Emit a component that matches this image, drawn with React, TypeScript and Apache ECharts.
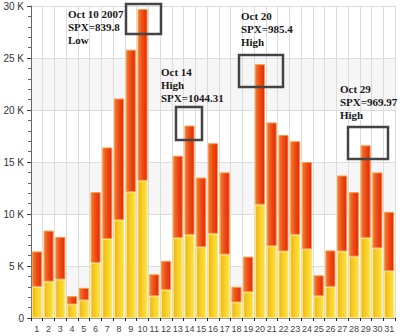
import React, { useEffect, useRef } from "react";
import * as echarts from "echarts";

const days = Array.from({ length: 31 }, (_, i) => String(i + 1));
const totals = [6.4, 8.4, 7.8, 2.1, 2.9, 12.1, 16.4, 21.1, 25.8, 29.7, 4.2, 5.5, 15.6, 18.5, 13.5, 16.8, 14.0, 3.0, 5.9, 24.4, 18.8, 17.6, 17.0, 15.0, 4.1, 6.5, 13.7, 12.1, 16.6, 14.0, 10.2];
const lower = [3.0, 3.5, 3.7, 1.3, 1.7, 5.3, 7.6, 9.4, 12.1, 13.2, 2.1, 2.7, 7.7, 8.0, 6.8, 8.1, 6.1, 1.5, 2.5, 10.9, 6.9, 6.4, 8.0, 6.6, 2.1, 3.0, 6.4, 5.9, 7.7, 6.7, 4.5];
const lowerValues = lower.map((v) => Math.round(v * 1000));
const upperValues = totals.map((t, i) => Math.round((t - lower[i]) * 1000));

const notes = [
  { text: "Oct 10 2007\nSPX=839.8\nLow", tx: 68, ty: 7, box: [126, 4, 35, 30] },
  { text: "Oct 14\nHigh\nSPX=1044.31", tx: 161, ty: 65, box: [176, 107, 26, 33] },
  { text: "Oct 20\nSPX=985.4\nHigh", tx: 241, ty: 9, box: [239, 55, 44, 32] },
  { text: "Oct 29\nSPX=969.97\nHigh", tx: 340, ty: 82, box: [348, 127, 40, 32] },
];

export default function App() {
  const ref = useRef<HTMLDivElement>(null);
  useEffect(() => {
    const chart = echarts.init(ref.current!, null, { renderer: "svg" });
    const graphics: any[] = [];
    notes.forEach((n) => {
      graphics.push({
        type: "rect",
        shape: { x: n.box[0], y: n.box[1], width: n.box[2], height: n.box[3] },
        style: { fill: "none", stroke: "#444", lineWidth: 2.5 },
        z: 100,
      });
      graphics.push({
        type: "text",
        x: n.tx,
        y: n.ty,
        style: {
          text: n.text,
          font: "bold 11px 'Liberation Serif', serif",
          fill: "#1a1a1a",
          lineHeight: 13,
          verticalAlign: "top",
        },
        z: 100,
      });
    });
    chart.setOption({
      animation: false,
      backgroundColor: "#fff",
      grid: { left: 31, right: 5, top: 6, bottom: 18 },
      xAxis: {
        type: "category",
        data: days,
        axisLine: { lineStyle: { color: "#999" } },
        axisTick: { show: true, interval: 0, length: 3, lineStyle: { color: "#222" } },
        axisLabel: { interval: 0, color: "#444", fontSize: 9, fontFamily: "Liberation Sans", margin: 6 },
        splitLine: { show: true, interval: 0, lineStyle: { color: "#dcdcdc" } },
      },
      yAxis: {
        type: "value",
        min: 0,
        max: 30000,
        interval: 5000,
        axisLine: { show: true, lineStyle: { color: "#666" } },
        axisTick: { show: true, length: 4, lineStyle: { color: "#444" } },
        minorTick: { show: true, splitNumber: 5, length: 3, lineStyle: { color: "#666" } },
        axisLabel: {
          color: "#333",
          fontSize: 10,
          fontFamily: "Liberation Sans",
          margin: 7,
          formatter: (v: number) => (v === 0 ? "0" : v / 1000 + " K"),
        },
        splitLine: { show: true, lineStyle: { color: "#dcdcdc" } },
        splitArea: { show: true, areaStyle: { color: ["#f6f6f6", "#ffffff"] } },
      },
      series: [
        {
          type: "bar",
          stack: "v",
          data: lowerValues,
          barCategoryGap: "14%",
          itemStyle: {
            color: new echarts.graphic.LinearGradient(0, 0, 1, 0, [
              { offset: 0, color: "#f0b418" },
              { offset: 0.5, color: "#f8d028" },
              { offset: 1, color: "#fbe244" },
            ]),
            borderColor: "#ffe870",
            borderWidth: 1,
          },
        },
        {
          type: "bar",
          stack: "v",
          data: upperValues,
          itemStyle: {
            color: new echarts.graphic.LinearGradient(0, 0, 1, 0, [
              { offset: 0, color: "#f27e2c" },
              { offset: 0.5, color: "#ec4a18" },
              { offset: 1, color: "#e42a08" },
            ]),
            borderColor: "#f89a40",
            borderWidth: 1,
          },
        },
      ],
      graphic: graphics,
    });
    return () => chart.dispose();
  }, []);
  return <div ref={ref} style={{ width: 400, height: 336, position: "absolute", left: 0, top: 0 }} />;
}
